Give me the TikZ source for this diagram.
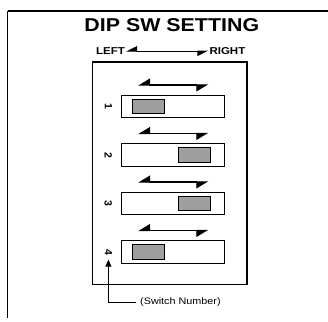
\documentclass[tikz,border=0pt]{standalone}
\usepackage{fontspec}
\setmainfont{Liberation Sans}
\newfontfamily\widefont[FakeStretch=1.15]{Liberation Sans}
\usetikzlibrary{arrows.meta, positioning}

\begin{document}
\begin{tikzpicture}[
x=1pt, y=-1pt,
title/.style={font=\widefont\bfseries\fontsize{18.6}{20}\selectfont, inner sep=0pt, anchor=base},
dirlbl/.style={font=\widefont\bfseries\fontsize{10}{12}\selectfont, inner sep=1pt},
note/.style={font=\widefont\fontsize{9.4}{11}\selectfont, inner sep=4pt},
swbox/.style={rectangle, draw=black, line width=0.9pt, minimum width=102.6pt, minimum height=22.3pt, inner sep=0pt, outer sep=0pt},
knob/.style={rectangle, draw=black, line width=0.7pt, fill=black!38, minimum width=32pt, minimum height=14.5pt, inner sep=0pt},
num/.style={font=\bfseries\fontsize{10.5}{10.5}\selectfont, inner sep=0.5pt},
toparrow/.style={{Triangle[harpoon, swap, length=10pt, width=10pt]}-{Triangle[harpoon, swap, length=10pt, width=10pt]}, line width=1pt},
dirarrow/.style={{Triangle[harpoon, swap, length=11pt, width=13pt]}-{Triangle[harpoon, swap, length=11pt, width=13pt]}, line width=1.2pt},
pointer/.style={-{Triangle[length=7pt, width=6pt]}, line width=0.9pt}
]
\useasboundingbox (0,0) rectangle (328,321);

\draw[line width=1.8pt] (328,11) -- (7.5,11);
\draw[line width=0.8pt] (7.5,11) -- (7.5,318);

\node[title] (title) at (171.8,31.7) {DIP SW SETTING};
\node[dirlbl, anchor=base west] (left) at (95,54.5) {LEFT};
\node[dirlbl, anchor=base east] (right) at (246.5,54.5) {RIGHT};
\draw[toparrow] (left.east) -- (left.east -| right.west);

\draw[line width=1.6pt] (92.3,61.7) rectangle (247,284.5);

\node[swbox] (sw1) at (173,106.5) {};
\node[swbox, below=26.2pt of sw1] (sw2) {};
\node[swbox, below=26.2pt of sw2] (sw3) {};
\node[swbox, below=26.2pt of sw3] (sw4) {};

\node[knob] (k1) at ([xshift=27pt]sw1.west) {};
\node[knob] (k2) at ([xshift=-30pt]sw2.east) {};
\node[knob] (k3) at ([xshift=-30pt]sw3.east) {};
\node[knob] (k4) at ([xshift=27pt]sw4.west) {};

\node[num, left=9pt of sw1] (n1) {\rotatebox{-90}{1}};
\node[num, left=9pt of sw2] (n2) {\rotatebox{-90}{2}};
\node[num, left=9pt of sw3] (n3) {\rotatebox{-90}{3}};
\node[num, left=9pt of sw4] (n4) {\rotatebox{-90}{4}};

\coordinate (a1l) at ([xshift=16.5pt, yshift=10.4pt]sw1.north west);
\coordinate (a1r) at ([xshift=-16pt, yshift=10.4pt]sw1.north east);
\coordinate (a2l) at ([xshift=16.5pt, yshift=10.4pt]sw2.north west);
\coordinate (a2r) at ([xshift=-16pt, yshift=10.4pt]sw2.north east);
\coordinate (a3l) at ([xshift=16.5pt, yshift=10.4pt]sw3.north west);
\coordinate (a3r) at ([xshift=-16pt, yshift=10.4pt]sw3.north east);
\coordinate (a4l) at ([xshift=16.5pt, yshift=10.4pt]sw4.north west);
\coordinate (a4r) at ([xshift=-16pt, yshift=10.4pt]sw4.north east);
\draw[dirarrow] (a1l) -- (a1r);
\draw[dirarrow] (a2l) -- (a2r);
\draw[dirarrow] (a3l) -- (a3r);
\draw[dirarrow] (a4l) -- (a4r);

\node[note, anchor=west] (note) at (136,302.5) {(Switch Number)};
\draw[pointer] (note.west) -| ([yshift=-4pt]n4.south);
\end{tikzpicture}
\end{document}
